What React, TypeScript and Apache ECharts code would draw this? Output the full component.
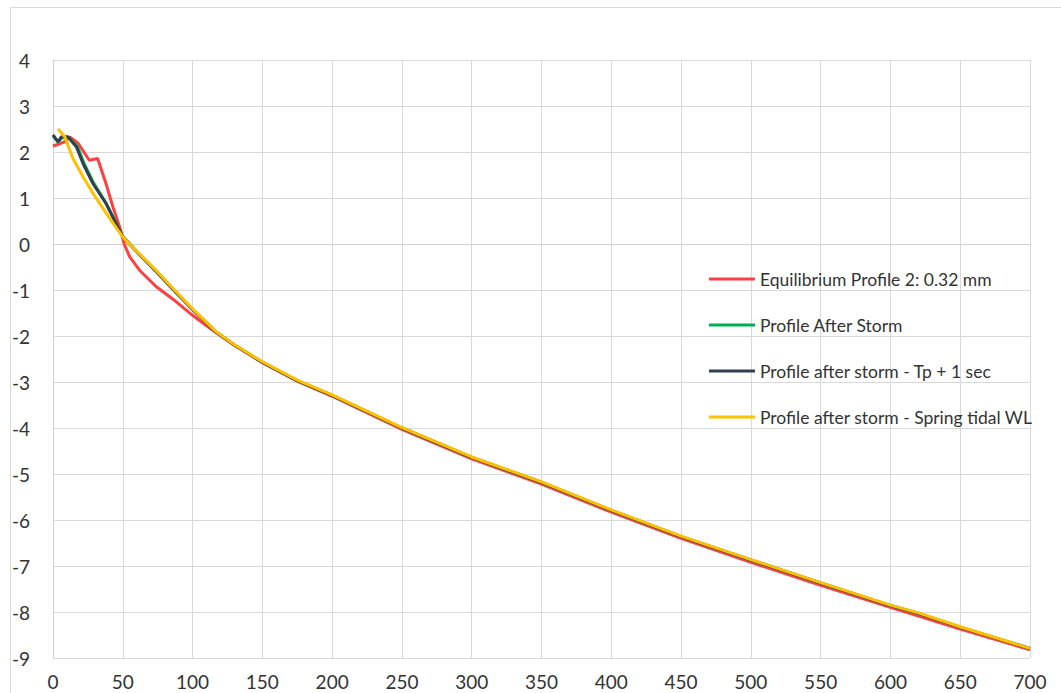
import React, { useEffect, useRef } from "react";
import * as echarts from "echarts";

const seriesNames = [
  "Equilibrium Profile 2: 0.32 mm",
  "Profile After Storm",
  "Profile after storm - Tp + 1 sec",
  "Profile after storm - Spring tidal WL",
];
const seriesColors = ["#ff4040", "#00b050", "#323f4f", "#ffc000"];

const equilibriumX = [0, 5, 8.4, 12, 18, 26, 32, 38, 43, 48, 51, 55, 62, 74, 86, 100, 110, 117, 130, 150, 175, 200, 250, 300, 350, 400, 450, 500, 550, 600, 650, 700];
const equilibriumY = [2.13, 2.18, 2.22, 2.33, 2.19, 1.82, 1.86, 1.31, 0.8, 0.35, 0.0, -0.28, -0.57, -0.93, -1.2, -1.55, -1.78, -1.93, -2.2, -2.58, -2.98, -3.31, -4.03, -4.67, -5.22, -5.83, -6.4, -6.92, -7.42, -7.9, -8.37, -8.82];

const afterStormX = [0, 3.6, 6.5, 11.5, 17.5, 22, 29, 38, 50, 60, 74, 87, 100, 117, 130, 150, 175, 200, 250, 300, 350, 400, 450, 500, 550, 600, 620, 650, 700];
const afterStormY = [2.35, 2.22, 2.31, 2.31, 2.12, 1.77, 1.33, 0.89, 0.16, -0.16, -0.59, -1.01, -1.42, -1.91, -2.19, -2.57, -2.97, -3.29, -4.0, -4.64, -5.18, -5.79, -6.36, -6.87, -7.37, -7.86, -8.03, -8.33, -8.79];

const tpPlusX = [0, 3.6, 6, 10.7, 16.8, 21.5, 28.7, 38, 50, 60, 74, 87, 100, 117, 130, 150, 175, 200, 250, 300, 350, 400, 450, 500, 550, 600, 620, 650, 700];
const tpPlusY = [2.37, 2.22, 2.33, 2.33, 2.11, 1.75, 1.31, 0.88, 0.15, -0.17, -0.6, -1.02, -1.43, -1.92, -2.2, -2.57, -2.97, -3.29, -4.0, -4.64, -5.18, -5.79, -6.36, -6.87, -7.37, -7.86, -8.03, -8.33, -8.79];

const springX = [3.6, 8.4, 14.3, 21.5, 28.7, 38.3, 50, 60, 74, 87, 100, 117, 130, 150, 175, 200, 250, 300, 350, 400, 450, 500, 550, 600, 620, 650, 700];
const springY = [2.5, 2.33, 1.86, 1.46, 1.1, 0.66, 0.15, -0.16, -0.58, -1.0, -1.41, -1.91, -2.19, -2.56, -2.96, -3.28, -3.99, -4.63, -5.17, -5.78, -6.35, -6.86, -7.36, -7.85, -8.02, -8.32, -8.79];

const xTickMin = 0;
const xTickMax = 700;
const xTickStep = 50;
const yTickMin = -9;
const yTickMax = 4;
const yTickStep = 1;

const zip = (xs: number[], ys: number[]) => xs.map((x, i) => [x, ys[i]]);

export default function App() {
  const ref = useRef<HTMLDivElement>(null);
  useEffect(() => {
    if (!ref.current) return;
    const chart = echarts.init(ref.current, undefined, { renderer: "svg" });
    const datasets = [
      zip(equilibriumX, equilibriumY),
      zip(afterStormX, afterStormY),
      zip(tpPlusX, tpPlusY),
      zip(springX, springY),
    ];
    const font = "Lato, 'Open Sans', sans-serif";
    chart.setOption({
      animation: false,
      backgroundColor: "#ffffff",
      graphic: [
        {
          type: "rect",
          left: 8,
          top: 5,
          shape: { width: 1200, height: 800 },
          style: { fill: "none", stroke: "#d9d9d9", lineWidth: 1 },
          silent: true,
          z: -1,
        },
      ],
      grid: { left: 53, right: 31, top: 60, bottom: 35, containLabel: false },
      legend: {
        orient: "vertical",
        left: 709,
        top: 270,
        padding: 0,
        icon: "rect",
        itemWidth: 46,
        itemHeight: 3,
        itemGap: 28,
        data: seriesNames,
        textStyle: { fontFamily: font, fontSize: 17.5, color: "#333333", lineHeight: 18 },
      },
      xAxis: {
        type: "value",
        min: xTickMin,
        max: xTickMax,
        interval: xTickStep,
        axisLine: { show: true, lineStyle: { color: "#d0d0d0", width: 1 } },
        axisTick: { show: false },
        splitLine: { show: true, lineStyle: { color: "#d9d9d9", width: 1 } },
        axisLabel: { fontFamily: font, fontSize: 19, color: "#333333", margin: 14 },
      },
      yAxis: {
        type: "value",
        min: yTickMin,
        max: yTickMax,
        interval: yTickStep,
        axisLine: { show: true, onZero: false, lineStyle: { color: "#d0d0d0", width: 1 } },
        axisTick: { show: false },
        splitLine: { show: true, lineStyle: { color: "#d9d9d9", width: 1 } },
        axisLabel: { fontFamily: font, fontSize: 19, color: "#333333", margin: 23 },
      },
      series: datasets.map((d, i) => ({
        name: seriesNames[i],
        type: "line",
        data: d,
        showSymbol: false,
        symbol: "none",
        smooth: false,
        lineStyle: { color: seriesColors[i], width: 3 },
        itemStyle: { color: seriesColors[i] },
      })),
    });
    return () => chart.dispose();
  }, []);
  return (
    <div
      ref={ref}
      style={{ position: "fixed", left: 0, top: 0, width: 1061, height: 693 }}
    />
  );
}
